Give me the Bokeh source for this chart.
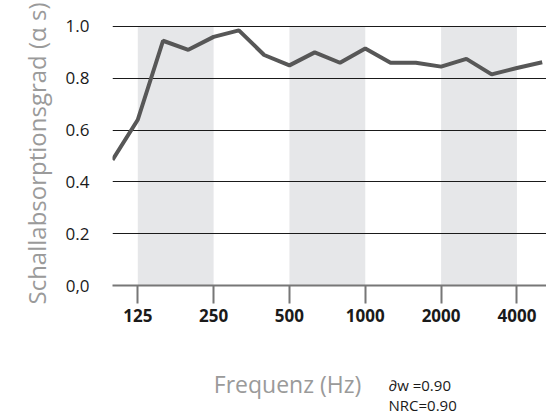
from bokeh.plotting import figure
from bokeh.models import Range1d, FixedTicker
from bokeh.layouts import column
from bokeh.core.properties import value
from bokeh.embed import file_html
from bokeh.resources import INLINE

# ---- data ----
freqs = [100, 125, 160, 200, 250, 315, 400, 500, 630, 800, 1000, 1250, 1600, 2000, 2500, 3150, 4000, 5000]
alpha = [0.485, 0.64, 0.945, 0.91, 0.96, 0.985, 0.89, 0.85, 0.90, 0.86, 0.915, 0.86, 0.86, 0.845, 0.875, 0.815, 0.84, 0.862]
x_tick_freqs = [125, 250, 500, 1000, 2000, 4000]
band_start_freqs = [125, 500, 2000]
band_end_freqs = [250, 1000, 4000]
y_ticks = [0.0, 0.2, 0.4, 0.6, 0.8, 1.0]
y_tick_labels = ["0,0", "0.2", "0.4", "0.6", "0.8", "1.0"]
x_label = "Frequenz (Hz)"
y_label = "Schallabsorptionsgrad (α s)"
note_lines = ["∂w =0.90", "NRC=0.90"]

idx = {f: i for i, f in enumerate(freqs)}
xs = list(range(len(freqs)))

FONT = "Open Sans"
TOP_H = 335
BOT_H = 417 - TOP_H
Y_SHIFT = 7  # measured offset of the lower strip

p = figure(width=546, height=TOP_H, output_backend="svg", toolbar_location=None,
           x_range=Range1d(0, 17.17), y_range=Range1d(0, 1.0193),
           min_border_left=112, min_border_right=0, min_border_top=21, min_border_bottom=TOP_H - 285)
p.outline_line_color = None
p.background_fill_color = "white"
p.border_fill_color = "white"

# shaded octave bands
p.quad(left=[idx[f] for f in band_start_freqs], right=[idx[f] for f in band_end_freqs],
       bottom=0, top=1.0, fill_color="#e6e7e9", line_color=None, level="image")

# data line
p.line(xs, alpha, line_color="#575757", line_width=4)

# x axis
xa = p.xaxis[0]
xa.ticker = FixedTicker(ticks=[idx[f] for f in x_tick_freqs])
xa.major_label_overrides = {idx[f]: str(f) for f in x_tick_freqs}
xa.axis_line_color = "#777777"
xa.axis_line_width = 2
xa.major_tick_line_color = "#777777"
xa.major_tick_line_width = 2
xa.major_tick_out = 18
xa.major_tick_in = 0
xa.minor_tick_line_color = None
xa.major_label_text_font = FONT
xa.major_label_text_font_style = "bold"
xa.major_label_text_font_size = "17px"
xa.major_label_text_color = "#1a1a1a"
xa.major_label_standoff = 5

# y axis
ya = p.yaxis[0]
ya.ticker = FixedTicker(ticks=y_ticks)
ya.major_label_overrides = {t: l for t, l in zip(y_ticks, y_tick_labels)}
ya.axis_line_color = None
ya.major_tick_line_color = None
ya.minor_tick_line_color = None
ya.major_tick_out = 0
ya.major_tick_in = 0
ya.major_label_standoff = 23
ya.major_label_text_font = FONT
ya.major_label_text_font_size = "17px"
ya.major_label_text_color = "#1a1a1a"
ya.axis_label = y_label
ya.axis_label_text_font = FONT
ya.axis_label_text_font_style = "normal"
ya.axis_label_text_font_size = "24px"
ya.axis_label_text_color = "#9a9a9a"
ya.axis_label_standoff = 10

p.xgrid.visible = False
p.ygrid.grid_line_color = "#1a1a1a"
p.ygrid.grid_line_width = 1

# lower text strip; its frame is aligned with the main frame (page x 112..546)
q = figure(width=546, height=BOT_H, output_backend="svg", toolbar_location=None,
           x_range=Range1d(112, 546), y_range=Range1d(BOT_H, 0),
           min_border_left=112, min_border_right=0, min_border_top=0, min_border_bottom=0)
q.axis.visible = False
q.grid.visible = False
q.outline_line_color = None
q.background_fill_color = "white"
q.border_fill_color = "white"

base = TOP_H + Y_SHIFT
q.text(x=[287], y=[390 - base], text=[x_label], text_align="center", text_baseline="alphabetic",
       text_font=value(FONT), text_font_size="23px", text_color="#9a9a9a")
q.text(x=[388, 388], y=[391 - base, 411 - base], text=note_lines, text_align="left",
       text_baseline="alphabetic", text_font=value(FONT), text_font_size="15px", text_color="#1a1a1a")

layout = column(p, q, spacing=0)
open("out.html", "w").write(file_html(layout, INLINE))
